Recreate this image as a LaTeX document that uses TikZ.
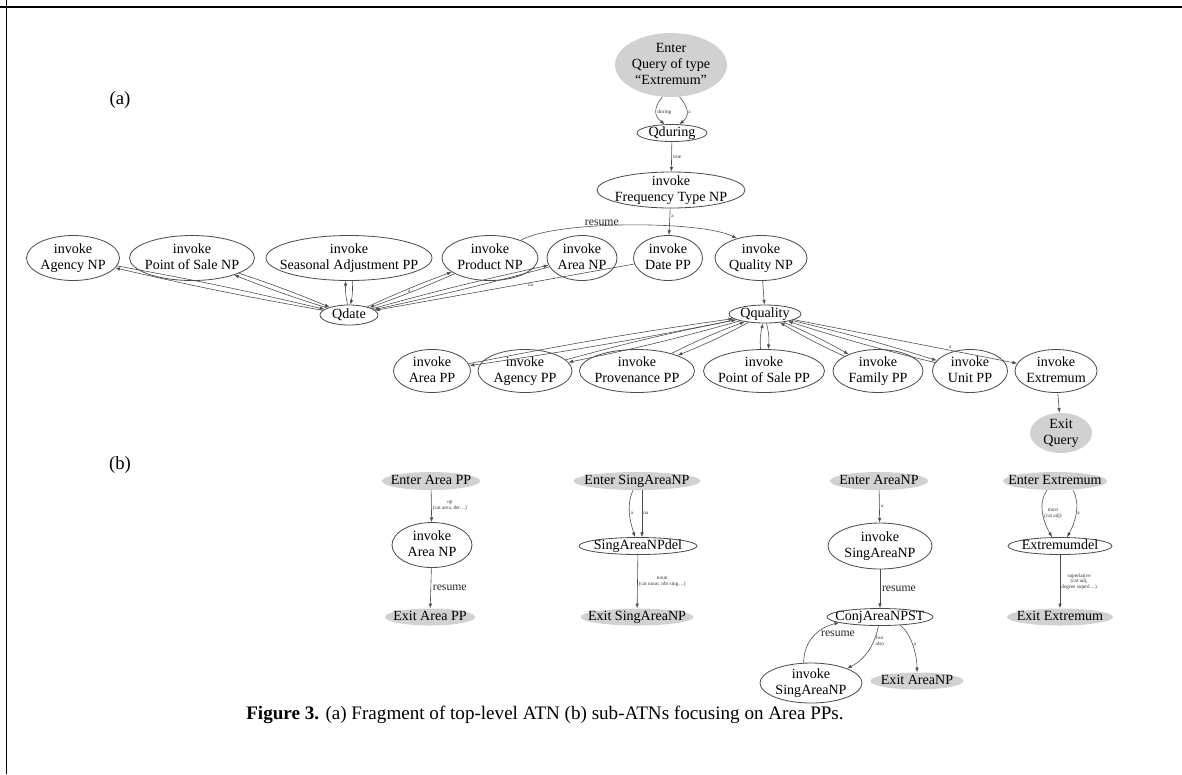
\documentclass[tikz,border=0pt]{standalone}
\usepackage{fontspec}
\setmainfont{Liberation Serif}
\usetikzlibrary{shapes.geometric,arrows.meta}

% text of a state, centred, taking no room of its own
\newcommand{\stk}[1]{\makebox[0pt]{\raisebox{-0.25em}[0pt][0pt]{\begin{tabular}{@{}c@{}}#1\end{tabular}}}}

\tikzset{
  st/.style={ellipse, draw=black!70, line width=0.7pt, inner sep=0pt, font=\fontsize{12}{13.6}\selectfont},
  term/.style={ellipse, fill=black!18, inner sep=0pt, font=\fontsize{12}{13.6}\selectfont},
  sz/.style 2 args={minimum width=#1*0.03cm, minimum height=#2*0.03cm},
  link/.style={-{Latex[length=4pt,width=3pt]}, draw=black!70, line width=0.5pt},
  lab/.style={font=\fontsize{4.5}{5}\selectfont, inner sep=1pt, align=center, text=black!80},
  midlab/.style={font=\fontsize{10}{11}\selectfont, inner sep=1.5pt, text=black!85}
}

\begin{document}
\begin{tikzpicture}[x=0.03cm, y=-0.03cm]
  \useasboundingbox (0,0) rectangle (1182,774);
  % frame
  \draw[line width=1.6pt] (0,7) -- (1182,7);
  \draw[line width=1.6pt] (6.5,0) -- (6.5,774);

  % (a) top-level ATN
  \node[font=\fontsize{16}{18}\selectfont] (tagA) at (120,100) {(a)};
  \node[term, sz={112}{64}] (enterQ) at (671,65) {\stk{Enter\\Query of type\\``Extremum''}};
  \node[st, sz={70}{17}] (qduring) at (672,133) {\stk{Qduring}};
  \node[st, sz={148}{36}] (freqNP) at (671,190) {\stk{invoke\\Frequency Type NP}};

  \node[st, sz={93}{45}] (agencyNP) at (73,258) {\stk{invoke\\Agency NP}};
  \node[st, sz={125}{45}] (saleNP) at (192,258) {\stk{invoke\\Point of Sale NP}};
  \node[st, sz={166}{45}] (seasonPP) at (349,258) {\stk{invoke\\Seasonal Adjustment PP}};
  \node[st, sz={96}{45}] (productNP) at (490,258) {\stk{invoke\\Product NP}};
  \node[st, sz={70}{45}] (areaNP) at (582,258) {\stk{invoke\\Area NP}};
  \node[st, sz={69}{45}] (datePP) at (668,258) {\stk{invoke\\Date PP}};
  \node[st, sz={92}{45}] (qualityNP) at (761,258) {\stk{invoke\\Quality NP}};

  \node[st, sz={58}{20}] (qdate) at (349,315) {\stk{Qdate}};
  \node[st, sz={72}{18}] (qquality) at (765,314) {\stk{Qquality}};

  \node[st, sz={77}{43}] (areaPP) at (432,371) {\stk{invoke\\Area PP}};
  \node[st, sz={94}{43}] (agencyPP) at (525,371) {\stk{invoke\\Agency PP}};
  \node[st, sz={115}{43}] (provPP) at (637,371) {\stk{invoke\\Provenance PP}};
  \node[st, sz={121}{43}] (salePP) at (764,371) {\stk{invoke\\Point of Sale PP}};
  \node[st, sz={90}{43}] (familyPP) at (878,371) {\stk{invoke\\Family PP}};
  \node[st, sz={75}{43}] (unitPP) at (970,371) {\stk{invoke\\Unit PP}};
  \node[st, sz={82}{43}] (extremum) at (1056,371) {\stk{invoke\\Extremum}};
  \node[term, sz={62}{40}] (exitQ) at (1061,433) {\stk{Exit\\Query}};

  \draw[link] (enterQ.-105) .. controls +(-10,12) and +(-10,-8) .. (qduring.130) node[lab, pos=0.5, right] {during};
  \draw[link] (enterQ.-75) .. controls +(10,12) and +(10,-8) .. (qduring.50) node[lab, pos=0.5, right] {a};
  \draw[link] (qduring) -- node[lab, right] {true} (freqNP);
  \draw[link] (freqNP) -- node[lab, right, pos=0.3] {a} (datePP);
  \draw[link] (productNP.30) .. controls +(35,-20) and +(-35,-18) .. (qualityNP.141) node[midlab, pos=0.4, above, inner sep=0pt] {resume};

  \draw[link] (qdate) to[bend left=1.5] (agencyNP);
  \draw[link] (agencyNP) to[bend left=1.5] (qdate);
  \draw[link] (qdate) to[bend left=2] (saleNP);
  \draw[link] (saleNP) to[bend left=2] (qdate);
  \draw[link] (qdate) to[bend left=8] (seasonPP);
  \draw[link] (seasonPP) to[bend left=8] (qdate);
  \draw[link] (qdate) to[bend left=2] node[lab, below] {a} (productNP);
  \draw[link] (productNP) to[bend left=2] (qdate);
  \draw[link] (qdate) to[bend left=1.5] (areaNP);
  \draw[link] (areaNP) to[bend left=1.5] (qdate);
  \draw[link] (datePP) -- node[lab, below, pos=0.4] {na} (qdate);

  \draw[link] (qualityNP) -- (qquality);
  \draw[link] (qquality) to[bend left=1.5] (areaPP);
  \draw[link] (areaPP) to[bend left=1.5] (qquality);
  \draw[link] (qquality) to[bend left=2] (agencyPP);
  \draw[link] (agencyPP) to[bend left=2] (qquality);
  \draw[link] (qquality) to[bend left=3] (provPP);
  \draw[link] (provPP) to[bend left=3] (qquality);
  \draw[link] (qquality) to[bend left=10] (salePP);
  \draw[link] (salePP) to[bend left=10] (qquality);
  \draw[link] (qquality) to[bend left=3] (familyPP);
  \draw[link] (familyPP) to[bend left=3] (qquality);
  \draw[link] (qquality) to[bend left=2] (unitPP);
  \draw[link] (unitPP) to[bend left=2] (qquality);
  \draw[link] (qquality) -- node[lab, above, pos=0.7] {a} (extremum);
  \draw[link] (extremum) -- (exitQ);

  % (b) sub-ATNs
  \node[font=\fontsize{16}{18}\selectfont] (tagB) at (120,465) {(b)};

  \node[term, sz={98}{18}] (enterAreaPP) at (431,481) {\stk{Enter Area PP}};
  \node[st, sz={80}{45}] (invAreaNP) at (432,545) {\stk{invoke\\Area NP}};
  \node[term, sz={90}{17}] (exitAreaPP) at (430,617) {\stk{Exit Area PP}};
  \draw[link] (enterAreaPP) -- node[lab, right] {np\\(cat area, det\dots)} (invAreaNP);
  \draw[link] (invAreaNP) -- node[midlab, right] {resume} (exitAreaPP);

  \node[term, sz={127}{18}] (enterSing) at (637,481) {\stk{Enter SingAreaNP}};
  \node[st, sz={118}{17}] (singDel) at (638,546) {\stk{SingAreaNPdel}};
  \node[term, sz={113}{17}] (exitSing) at (637,617) {\stk{Exit SingAreaNP}};
  \draw[link] ([xshift=-0.12cm]enterSing.south) .. controls +(-7,16) and +(-5,-16) .. ([xshift=-0.09cm]singDel.north) node[lab, pos=0.5, right] {a};
  \draw[link] ([xshift=0.15cm]enterSing.south) -- node[lab, right] {na} ([xshift=0.12cm]singDel.north);
  \draw[link] (singDel) -- node[lab, right] {noun\\(cat noun, nbr sing\dots)} (exitSing);

  \node[term, sz={98}{18}] (enterAreaNP) at (879,481) {\stk{Enter AreaNP}};
  \node[st, sz={104}{46}] (invSingA) at (880,546) {\stk{invoke\\SingAreaNP}};
  \node[st, sz={106}{17}] (conjNP) at (880,617) {\stk{ConjAreaNPST}};
  \node[st, sz={102}{40}] (invSingB) at (811,683) {\stk{invoke\\SingAreaNP}};
  \node[term, sz={93}{17}] (exitAreaNP) at (917,681) {\stk{Exit AreaNP}};
  \draw[link] (enterAreaNP) -- node[lab, right] {a} (invSingA);
  \draw[link] (invSingA) -- node[midlab, right] {resume} (conjNP);
  \draw[link] (invSingB.110) .. controls +(0,-24) and +(-18,4) .. (conjNP.-172) node[midlab, pos=0.55, right, xshift=2pt] {resume};
  \draw[link] (conjNP.-100) .. controls +(-3,16) and +(20,-10) .. (invSingB.22) node[lab, pos=0.3, right] {but\\also};
  \draw[link] (conjNP.-22) .. controls +(12,10) and +(0,-16) .. (exitAreaNP.north) node[lab, pos=0.45, right] {a};

  \node[term, sz={104}{18}] (enterExt) at (1055,481) {\stk{Enter Extremum}};
  \node[st, sz={104}{17}] (extDel) at (1060,546) {\stk{Extremumdel}};
  \node[term, sz={106}{17}] (exitExt) at (1060,617) {\stk{Exit Extremum}};
  \draw[link] ([xshift=-0.24cm]enterExt.south) .. controls +(-10,14) and +(-8,-14) .. ([xshift=-0.24cm]extDel.north) node[lab, pos=0.5, right] {most\\(cat adj)};
  \draw[link] ([xshift=0.54cm]enterExt.south) .. controls +(8,14) and +(8,-14) .. ([xshift=0.21cm]extDel.north) node[lab, pos=0.5, right] {a};
  \draw[link] (extDel) -- node[lab, right] {superlative\\(cat adj,\\degree superl\dots)} (exitExt);

  % caption
  \node[font=\fontsize{16.3}{19}\selectfont] (caption) at (545,715) {\textbf{Figure 3.} (a) Fragment of top-level ATN (b) sub-ATNs focusing on Area PPs.};
\end{tikzpicture}
\end{document}
